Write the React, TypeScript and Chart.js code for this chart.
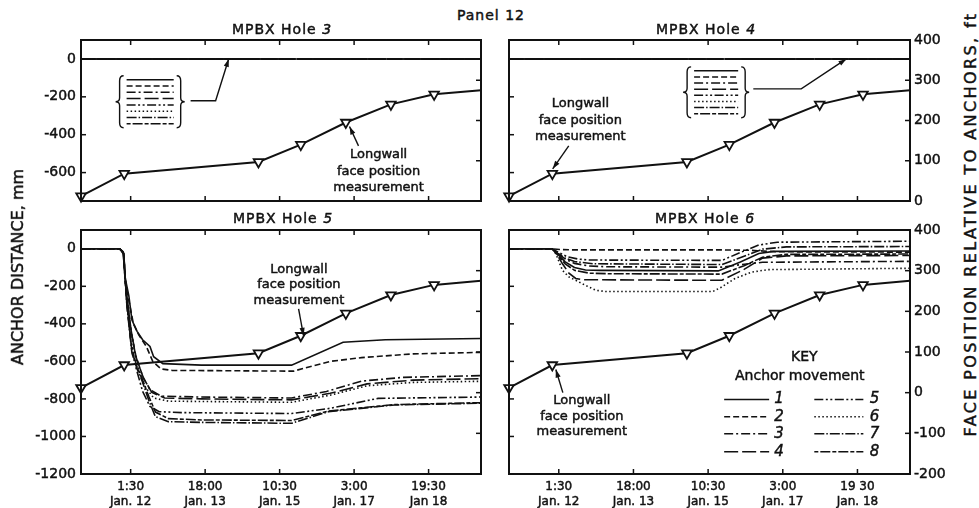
import React, { useEffect, useRef } from "react";
import { Chart, registerables } from "chart.js";

Chart.register(...registerables);

type Pt = [number, number];

// ---------- DATA ----------
// time axis: hours after 00:00 Jan. 12
const X_MIN = -25.5;
const X_MAX = 192;
const TICK_HOURS = [1.5, 42, 82.5, 123, 163.5];
const TICK_LABELS_LEFT = [["1:30", "Jan. 12"], ["18:00", "Jan. 13"], ["10:30", "Jan. 15"], ["3:00", "Jan. 17"], ["19:30", "Jan 18"]];
const TICK_LABELS_RIGHT = [["1:30", "Jan. 12"], ["18:00", "Jan. 13"], ["10:30", "Jan. 15"], ["3:00", "Jan. 17"], ["19 30", "Jan. 18"]];

const MM_TICKS_TOP = [0, -200, -400, -600];
const MM_TICKS_BOTTOM = [0, -200, -400, -600, -800, -1000, -1200];
const FT_TICKS_TOP = [0, 100, 200, 300, 400];
const FT_TICKS_BOTTOM = [-200, -100, 0, 100, 200, 300, 400];

// longwall face position relative to anchors (ft)
const FACE_HOURS = [-25.5, -2, 71, 94, 118.5, 143, 166.5, 192];
const FACE_FT = [12, 68, 97, 140, 195, 240, 265, 275];

// MPBX holes 3 and 4: all 8 anchors stay at 0 mm
const HOLE3_ANCHOR: Pt[] = [[-25.5, 0], [192, 0]];
const HOLE4_ANCHOR: Pt[] = [[-25.5, 0], [192, 0]];

// MPBX hole 5 anchor movement (mm)
const HOLE5_A1: Pt[] = [[-25.5, 0], [-4.5, 0], [-2.6, -15], [-1.6, -150], [0.5, -250], [2.2, -380], [5, -440], [8, -485], [12, -520], [14, -575], [19, -612], [40, -620], [89, -620], [117, -498], [140, -485], [192, -478]];
const HOLE5_A2: Pt[] = [[-25.5, 0], [-4.5, 0], [-2.5, -20], [-1.4, -180], [1, -300], [3, -400], [6, -460], [10, -520], [13.5, -600], [18, -640], [24, -648], [90, -652], [110, -600], [127, -580], [155, -560], [192, -552]];
const HOLE5_A3: Pt[] = [[-25.5, 0], [-4.5, 0], [-2.4, -20], [-1.2, -200], [1.5, -420], [4, -560], [8, -680], [12, -750], [18, -785], [40, -790], [89, -795], [108, -760], [127, -705], [150, -685], [192, -676]];
const HOLE5_A4: Pt[] = [[-25.5, 0], [-4.5, 0], [-2.4, -20], [-1.1, -210], [1.8, -440], [4.5, -580], [8.5, -690], [13, -765], [20, -795], [40, -800], [89, -805], [110, -770], [130, -720], [155, -700], [192, -692]];
const HOLE5_A5: Pt[] = [[-25.5, 0], [-4.5, 0], [-2.3, -25], [-0.8, -260], [1.5, -480], [4, -620], [8, -760], [12, -840], [17, -868], [30, -873], [89, -878], [110, -850], [136, -797], [192, -790]];
const HOLE5_A6: Pt[] = [[-25.5, 0], [-4.5, 0], [-2.3, -25], [-1, -240], [2, -460], [5, -620], [9, -730], [14, -795], [22, -812], [89, -818], [110, -780], [130, -730], [155, -712], [192, -706]];
const HOLE5_A7: Pt[] = [[-25.5, 0], [-4.5, 0], [-2.2, -30], [-0.5, -310], [2.2, -556], [5, -640], [7.6, -700], [11.3, -805], [14.9, -894], [22, -921], [40, -925], [89, -930], [109, -868], [145, -832], [192, -823]];
const HOLE5_A8: Pt[] = [[-25.5, 0], [-4.5, 0], [-2.2, -30], [-0.6, -290], [2, -530], [5, -630], [8, -700], [11.5, -790], [15, -870], [22, -905], [40, -912], [89, -915], [109, -865], [145, -830], [192, -820]];

// MPBX hole 6 anchor movement (mm)
const HOLE6_A1: Pt[] = [[-25.5, 0], [-2, 0], [1, -30], [5, -70], [10, -100], [16, -113], [24, -115], [88, -118], [100, -70], [110, -25], [118, -14], [192, -12]];
const HOLE6_A2: Pt[] = [[-25.5, 0], [-2, 0], [2, -4], [10, -6], [90, -6], [105, -8], [120, -16], [192, -18]];
const HOLE6_A3: Pt[] = [[-25.5, 0], [-2, 0], [1, -25], [5, -55], [10, -78], [18, -92], [28, -96], [90, -98], [100, -85], [112, -72], [192, -67]];
const HOLE6_A4: Pt[] = [[-25.5, 0], [-2, 0], [0.5, -30], [3.5, -80], [7, -130], [10.7, -158], [14.4, -165], [90, -168], [102, -110], [112, -50], [125, -38], [192, -36]];
const HOLE6_A5: Pt[] = [[-25.5, 0], [-2, 0], [1.5, -20], [6, -42], [12, -55], [18, -60], [90, -62], [100, -20], [110, 20], [120, 35], [192, 40]];
const HOLE6_A6: Pt[] = [[-25.5, 0], [-2, 0], [-0.1, -27], [3.5, -115], [7, -150], [10.7, -168], [16, -195], [21.6, -221], [27, -228], [85, -228], [89.6, -205], [96.8, -160], [105.8, -125], [115, -111], [192, -104]];
const HOLE6_A7: Pt[] = [[-25.5, 0], [-2, 0], [1, -25], [5, -50], [10, -68], [20, -80], [90, -84], [102, -40], [112, -2], [125, 10], [192, 12]];
const HOLE6_A8: Pt[] = [[-25.5, 0], [-2, 0], [1, -35], [5, -80], [10, -115], [18, -130], [28, -133], [90, -135], [102, -90], [112, -45], [125, -30], [192, -28]];

// ---------- STYLES ----------
const INK = "#111";
const FONT = '"DejaVu Sans", sans-serif';
const TEXT_STROKE = 0.45;
const ANCHOR_DASHES: number[][] = [
  [],
  [6, 3],
  [9, 3, 2, 3],
  [14, 4],
  [9, 2.5, 2, 2.5, 2, 2.5],
  [1.5, 2.5],
  [10, 2, 1.5, 2],
  [4, 2, 10, 2],
];

type Ctx = CanvasRenderingContext2D;

function text(ctx: Ctx, s: string, x: number, y: number, font: string, align: CanvasTextAlign = "center") {
  ctx.font = font;
  ctx.textAlign = align;
  ctx.textBaseline = "middle";
  ctx.fillStyle = INK;
  ctx.fillText(s, x, y);
  ctx.setLineDash([]);
  ctx.lineWidth = TEXT_STROKE;
  ctx.strokeStyle = INK;
  ctx.strokeText(s, x, y);
}

function arrow(ctx: Ctx, pts: Pt[]) {
  ctx.setLineDash([]);
  ctx.lineWidth = 1.4;
  ctx.beginPath();
  ctx.moveTo(pts[0][0], pts[0][1]);
  for (let i = 1; i < pts.length; i++) ctx.lineTo(pts[i][0], pts[i][1]);
  ctx.stroke();
  const [x1, y1] = pts[pts.length - 2];
  const [x2, y2] = pts[pts.length - 1];
  const a = Math.atan2(y2 - y1, x2 - x1);
  const L = 8, W = 2.6;
  const c = Math.cos(a), s = Math.sin(a);
  ctx.beginPath();
  ctx.moveTo(x2, y2);
  ctx.lineTo(x2 - L * c + W * s, y2 - L * s - W * c);
  ctx.lineTo(x2 - L * c - W * s, y2 - L * s + W * c);
  ctx.closePath();
  ctx.fill();
}

function brace(ctx: Ctx, x: number, y0: number, y1: number, dir: number) {
  const w = 4 * dir;
  const ym = (y0 + y1) / 2;
  ctx.setLineDash([]);
  ctx.lineWidth = 1.4;
  ctx.beginPath();
  ctx.moveTo(x, y0);
  ctx.quadraticCurveTo(x - w, y0, x - w, y0 + 5);
  ctx.lineTo(x - w, ym - 4);
  ctx.quadraticCurveTo(x - w, ym, x - 2 * w, ym);
  ctx.quadraticCurveTo(x - w, ym, x - w, ym + 4);
  ctx.lineTo(x - w, y1 - 5);
  ctx.quadraticCurveTo(x - w, y1, x, y1);
  ctx.stroke();
}

function dashLine(ctx: Ctx, x0: number, x1: number, y: number, dash: number[]) {
  ctx.setLineDash(dash);
  ctx.lineWidth = 1.5;
  ctx.beginPath();
  ctx.moveTo(x0, y);
  ctx.lineTo(x1, y);
  ctx.stroke();
  ctx.setLineDash([]);
}

type Annot = (ctx: Ctx, X: (v: number) => number, MM: (v: number) => number, FT: (v: number) => number) => void;

const ANNOT_FONT = `13px ${FONT}`;

function faceLabel(ctx: Ctx, cx: number, ys: number[]) {
  text(ctx, "Longwall", cx, ys[0], ANNOT_FONT);
  text(ctx, "face position", cx, ys[1], ANNOT_FONT);
  text(ctx, "measurement", cx, ys[2], ANNOT_FONT);
}

function anchorBox(ctx: Ctx, X: (v: number) => number, MM: (v: number) => number, h0: number, h1: number, m0: number, m1: number) {
  const x0 = X(h0), x1 = X(h1), y0 = MM(m0), y1 = MM(m1);
  const n = ANCHOR_DASHES.length;
  for (let i = 0; i < n; i++) {
    const y = y0 + ((y1 - y0) * i) / (n - 1);
    dashLine(ctx, x0, x1, y, ANCHOR_DASHES[i]);
  }
  brace(ctx, x0 - 3, y0 - 4, y1 + 4, 1);
  brace(ctx, x1 + 3, y0 - 4, y1 + 4, -1);
}

const ANNOT_H3: Annot = (ctx, X, MM, FT) => {
  anchorBox(ctx, X, MM, -0.7, 24.9, -110, -342);
  arrow(ctx, [[X(34.1), MM(-221)], [X(47.7), MM(-221)], [X(54.8), MM(0)]]);
  faceLabel(ctx, X(136.3), [FT(115), FT(72), FT(32)]);
  arrow(ctx, [[X(125.4), FT(137)], [X(120.5), FT(185)]]);
};
const ANNOT_H4: Annot = (ctx, X, MM, FT) => {
  anchorBox(ctx, X, MM, 74.9, 98.8, -63, -289);
  arrow(ctx, [[X(107), MM(-158)], [X(133), MM(-158)], [X(157.5), MM(0)]]);
  faceLabel(ctx, X(13.2), [FT(242), FT(200), FT(160)]);
  arrow(ctx, [[X(6.9), FT(137)], [X(-1.8), FT(80)]]);
};
const ANNOT_H5: Annot = (ctx, X, MM, FT) => {
  faceLabel(ctx, X(93), [FT(302), FT(265), FT(226)]);
  arrow(ctx, [[X(92.8), FT(206)], [X(95.5), FT(140)]]);
};
const ANNOT_H6: Annot = (ctx, X, MM, FT) => {
  faceLabel(ctx, X(14), [FT(-20), FT(-59), FT(-96)]);
  arrow(ctx, [[X(3.7), FT(0)], [X(-0.1), FT(57)]]);
  text(ctx, "KEY", X(134.7), FT(88), `14px ${FONT}`);
  text(ctx, "Anchor movement", X(132.2), FT(39), `14px ${FONT}`);
  const rows = [-17, -59, -101, -145];
  const numFont = `italic 15px ${FONT}`;
  for (let r = 0; r < 4; r++) {
    const y = FT(rows[r]);
    dashLine(ctx, X(91.2), X(115.6), y, ANCHOR_DASHES[r]);
    text(ctx, String(r + 1), X(121), y, numFont);
    dashLine(ctx, X(140.1), X(166.7), y, ANCHOR_DASHES[r + 4]);
    text(ctx, String(r + 5), X(172.7), y, numFont);
  }
};

type PanelCfg = {
  left: number; top: number; w: number; h: number;
  pad: { top: number; right: number; bottom: number; left: number };
  side: "left" | "right";
  mmRange: [number, number];
  ftRange: [number, number];
  mmTicks: number[];
  ftTicks: number[];
  anchors: Pt[][];
  xLabels: string[][] | null;
  annot: Annot;
};

const PANELS: PanelCfg[] = [
  {
    left: 0, top: 30, w: 490, h: 180, pad: { top: 10, right: 9, bottom: 9, left: 0 }, side: "left",
    mmRange: [-750, 100], ftRange: [0, 400], mmTicks: MM_TICKS_TOP, ftTicks: FT_TICKS_TOP,
    anchors: [HOLE3_ANCHOR, HOLE3_ANCHOR, HOLE3_ANCHOR, HOLE3_ANCHOR, HOLE3_ANCHOR, HOLE3_ANCHOR, HOLE3_ANCHOR, HOLE3_ANCHOR],
    xLabels: null, annot: ANNOT_H3,
  },
  {
    left: 500, top: 30, w: 460, h: 180, pad: { top: 10, right: 0, bottom: 9, left: 9 }, side: "right",
    mmRange: [-750, 100], ftRange: [0, 400], mmTicks: MM_TICKS_TOP, ftTicks: FT_TICKS_TOP,
    anchors: [HOLE4_ANCHOR, HOLE4_ANCHOR, HOLE4_ANCHOR, HOLE4_ANCHOR, HOLE4_ANCHOR, HOLE4_ANCHOR, HOLE4_ANCHOR, HOLE4_ANCHOR],
    xLabels: null, annot: ANNOT_H4,
  },
  {
    left: 0, top: 220, w: 490, h: 288, pad: { top: 10, right: 9, bottom: 0, left: 0 }, side: "left",
    mmRange: [-1200, 100], ftRange: [-200, 400], mmTicks: MM_TICKS_BOTTOM, ftTicks: FT_TICKS_BOTTOM,
    anchors: [HOLE5_A1, HOLE5_A2, HOLE5_A3, HOLE5_A4, HOLE5_A5, HOLE5_A6, HOLE5_A7, HOLE5_A8],
    xLabels: TICK_LABELS_LEFT, annot: ANNOT_H5,
  },
  {
    left: 500, top: 220, w: 460, h: 288, pad: { top: 10, right: 0, bottom: 0, left: 9 }, side: "right",
    mmRange: [-1200, 100], ftRange: [-200, 400], mmTicks: MM_TICKS_BOTTOM, ftTicks: FT_TICKS_BOTTOM,
    anchors: [HOLE6_A1, HOLE6_A2, HOLE6_A3, HOLE6_A4, HOLE6_A5, HOLE6_A6, HOLE6_A7, HOLE6_A8],
    xLabels: TICK_LABELS_RIGHT, annot: ANNOT_H6,
  },
];

function makeDeco(cfg: PanelCfg) {
  return {
    id: "deco",
    afterDatasetsDraw(chart: any) {
      const { ctx, chartArea: a, scales } = chart;
      const xs = scales.x, mm = scales.mm, ft = scales.ft;
      ctx.save();
      ctx.strokeStyle = INK;
      ctx.fillStyle = INK;
      ctx.setLineDash([]);
      ctx.lineWidth = 2;
      ctx.strokeRect(a.left, a.top, a.right - a.left, a.bottom - a.top);
      ctx.lineWidth = 1.5;
      const seg = (x0: number, y0: number, x1: number, y1: number) => {
        ctx.beginPath(); ctx.moveTo(x0, y0); ctx.lineTo(x1, y1); ctx.stroke();
      };
      for (const hv of TICK_HOURS) {
        const px = xs.getPixelForValue(hv);
        seg(px, a.bottom, px, a.bottom - 5);
        seg(px, a.top, px, a.top + 5);
      }
      for (const v of cfg.mmTicks) {
        const py = mm.getPixelForValue(v);
        seg(a.left, py, a.left + 5, py);
      }
      for (const v of cfg.ftTicks) {
        const py = ft.getPixelForValue(v);
        seg(a.right, py, a.right - 5, py);
      }
      cfg.annot(
        ctx,
        (v) => xs.getPixelForValue(v),
        (v) => mm.getPixelForValue(v),
        (v) => ft.getPixelForValue(v)
      );
      ctx.restore();
    },
  };
}

function Panel({ cfg }: { cfg: PanelCfg }) {
  const ref = useRef<HTMLCanvasElement | null>(null);
  useEffect(() => {
    if (!ref.current) return;
    Chart.defaults.font.family = FONT;
    Chart.defaults.color = INK;
    const datasets: any[] = cfg.anchors.map((pts, i) => ({
      data: pts.map(([x, y]) => ({ x, y })),
      yAxisID: "mm",
      borderColor: INK,
      borderWidth: 1.6,
      borderDash: ANCHOR_DASHES[i],
      pointRadius: 0,
      fill: false,
      tension: 0,
    }));
    datasets.push({
      data: FACE_HOURS.map((x, i) => ({ x, y: FACE_FT[i] })),
      yAxisID: "ft",
      borderColor: INK,
      borderWidth: 2,
      pointStyle: "triangle",
      rotation: 180,
      pointRadius: (c: any) => (c.dataIndex === FACE_HOURS.length - 1 ? 0 : 5.5),
      pointBackgroundColor: "#fff",
      pointBorderColor: INK,
      pointBorderWidth: 1.8,
      fill: false,
      tension: 0,
      clip: false,
    });
    const showLeft = cfg.side === "left";
    const showX = !!cfg.xLabels;
    const tickFont = { size: 14, family: FONT };
    const chart = new Chart(ref.current, {
      type: "line",
      data: { datasets },
      options: {
        animation: false,
        responsive: true,
        maintainAspectRatio: false,
        events: [],
        layout: { padding: cfg.pad },
        plugins: { legend: { display: false }, tooltip: { enabled: false }, title: { display: false } },
        scales: {
          x: {
            type: "linear",
            min: X_MIN,
            max: X_MAX,
            display: showX,
            grid: { display: false, drawTicks: false },
            border: { display: false },
            afterBuildTicks: (s: any) => { s.ticks = TICK_HOURS.map((value) => ({ value })); },
            afterFit: (s: any) => {
              if (showX) s.height = 34;
              s.paddingLeft = 0; s.paddingRight = 0;
            },
            ticks: {
              autoSkip: false,
              maxRotation: 0,
              padding: 6,
              font: { size: 12, family: FONT, lineHeight: 1.2 },
              color: INK,
              textStrokeColor: INK,
              textStrokeWidth: TEXT_STROKE,
              callback: (_v: any, i: number) => (cfg.xLabels ? cfg.xLabels[i] : ""),
            },
          },
          mm: {
            type: "linear",
            position: "left",
            min: cfg.mmRange[0],
            max: cfg.mmRange[1],
            display: showLeft,
            grid: { display: false, drawTicks: false },
            border: { display: false },
            afterBuildTicks: (s: any) => { s.ticks = cfg.mmTicks.map((value) => ({ value })); },
            afterFit: (s: any) => {
              if (showLeft) s.width = 81;
              s.paddingTop = 0; s.paddingBottom = 0;
            },
            ticks: { padding: 5, font: tickFont, color: INK, textStrokeColor: INK, textStrokeWidth: TEXT_STROKE, callback: (v: any) => String(v) },
          },
          ft: {
            type: "linear",
            position: "right",
            min: cfg.ftRange[0],
            max: cfg.ftRange[1],
            display: !showLeft,
            grid: { display: false, drawTicks: false },
            border: { display: false },
            afterBuildTicks: (s: any) => { s.ticks = cfg.ftTicks.map((value) => ({ value })); },
            afterFit: (s: any) => {
              if (!showLeft) s.width = 50;
              s.paddingTop = 0; s.paddingBottom = 0;
            },
            ticks: { padding: 4, font: tickFont, color: INK, textStrokeColor: INK, textStrokeWidth: TEXT_STROKE, callback: (v: any) => String(v) },
          },
        },
      },
      plugins: [makeDeco(cfg)],
    } as any);
    return () => chart.destroy();
  }, [cfg]);
  return (
    <div style={{ position: "absolute", left: cfg.left, top: cfg.top, width: cfg.w, height: cfg.h }}>
      <canvas ref={ref} />
    </div>
  );
}

function Label({ x, y, size, children, rotate, spacing }: { x: number; y: number; size: number; children: React.ReactNode; rotate?: boolean; spacing?: number }) {
  return (
    <div
      style={{
        position: "absolute",
        left: x,
        top: y,
        transform: `translate(-50%, -50%)${rotate ? " rotate(-90deg)" : ""}`,
        whiteSpace: "nowrap",
        fontFamily: FONT,
        fontSize: size,
        letterSpacing: spacing ?? 0,
        color: INK,
        lineHeight: 1,
        WebkitTextStroke: `${TEXT_STROKE}px ${INK}`,
      }}
    >
      {children}
    </div>
  );
}

export default function App() {
  return (
    <div style={{ position: "absolute", left: 0, top: 0, width: 979, height: 508, background: "#fff", overflow: "hidden" }}>
      {PANELS.map((p, i) => (
        <Panel key={i} cfg={p} />
      ))}
      <Label x={491} y={15} size={14} spacing={1}>Panel 12</Label>
      <Label x={282} y={29} size={14} spacing={1}>MPBX Hole <i>3</i></Label>
      <Label x={706} y={29} size={14} spacing={1}>MPBX Hole <i>4</i></Label>
      <Label x={283} y={218} size={14} spacing={1}>MPBX Hole <i>5</i></Label>
      <Label x={705} y={218} size={14} spacing={1}>MPBX Hole <i>6</i></Label>
      <Label x={18} y={267} size={16} rotate>ANCHOR DISTANCE, mm</Label>
      <Label x={971} y={224} size={16} spacing={2.4} rotate>FACE POSITION RELATIVE TO ANCHORS, ft</Label>
    </div>
  );
}
